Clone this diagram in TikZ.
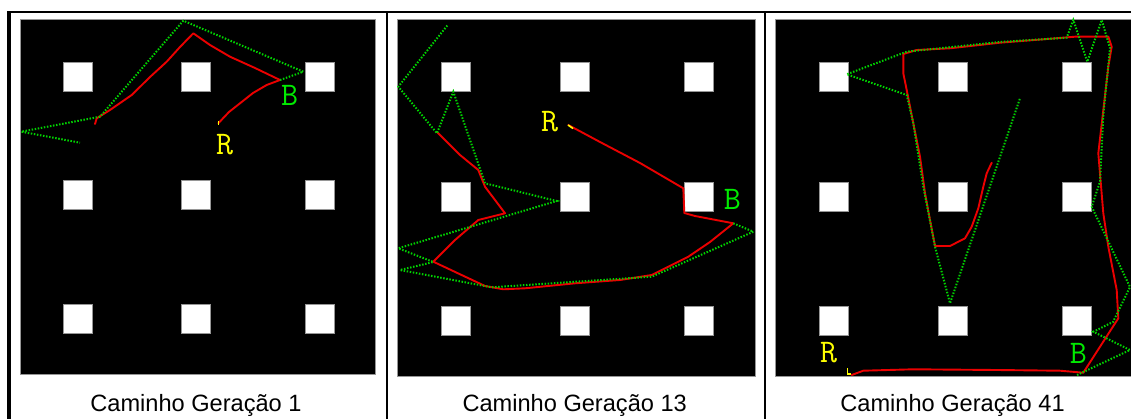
\documentclass[tikz,border=0pt]{standalone}
\usepackage{fontspec}
\setmainfont{Liberation Sans}
\definecolor{pathred}{RGB}{235,0,0}
\definecolor{wpgreen}{RGB}{0,210,0}
\definecolor{lblgreen}{RGB}{0,235,0}
\definecolor{lblyellow}{RGB}{255,255,0}
\definecolor{edgegray}{RGB}{150,150,150}
\begin{document}
\begin{tikzpicture}[x=1pt,y=-1pt,
  arena/.style={fill=black,draw=edgegray,line width=1pt},
  obstacle/.style={rectangle,fill=white,draw=edgegray,line width=0.8pt,minimum size=29pt,inner sep=0pt},
  robotpath/.style={draw=pathred,line width=1.9pt,line join=round,line cap=round},
  genepath/.style={draw=wpgreen,line width=2pt,dash pattern=on 1.5pt off 1.6pt},
  startmark/.style={draw=lblyellow,line width=1.6pt},
  rlabel/.style={text=lblyellow,font=\ttfamily\fontsize{33}{33}\selectfont,inner sep=0pt},
  blabel/.style={text=lblgreen,font=\ttfamily\fontsize{33}{33}\selectfont,inner sep=0pt},
  caption/.style={font=\fontsize{23.6}{28}\selectfont,anchor=base,inner sep=0pt},
  tableline/.style={draw=black,line width=2pt}]
\useasboundingbox (0,0) rectangle (1131,419);
\clip (0,0) rectangle (1131,419);
\fill[white] (0,0) rectangle (1131,419);

% table lines
\draw[tableline] (7,12.5) -- (1131,12.5);
\draw[draw=black,line width=4pt] (9.3,11.5) -- (9.3,419);
\draw[tableline] (386.7,12.5) -- (386.7,419);
\draw[tableline] (764.7,12.5) -- (764.7,419);

% arenas
\draw[arena] (20.7,19.3) rectangle (375.3,374);
\draw[arena] (397.7,19.3) rectangle (755.3,376.7);
\draw[arena] (775.3,19.3) rectangle (1140,376.7);

% obstacles
\foreach \x [count=\i] in {77.8,196,319.7}
  \foreach \y [count=\j] in {76.7,195,318.7}
    \node[obstacle] (a\i\j) at (\x,\y) {};
\foreach \x [count=\i] in {455.5,574.7,699}
  \foreach \y [count=\j] in {77.2,196.7,321}
    \node[obstacle] (b\i\j) at (\x,\y) {};
\foreach \x [count=\i] in {833.7,952.8,1077}
  \foreach \y [count=\j] in {77.2,196.7,321}
    \node[obstacle] (c\i\j) at (\x,\y) {};

% ---------- panel 1 ----------
\draw[robotpath] (218.3,123.3) -- (229,112) -- (240,103.3) -- (253,93) -- (266.7,85) -- (280,80)
  -- (255,68) -- (230,56.7) -- (210,45) -- (193.3,33.3) -- (180,47) -- (166.7,61.7) -- (150,77)
  -- (131.7,95) -- (110,110) -- (96.7,118.3) -- (95,124);
\draw[genepath] (280,80) -- (303.3,71.7) -- (183.3,20.7) -- (100,116.7) -- (21.3,131.7) -- (80,142.7);
\draw[startmark] (218.3,121) -- (218.3,125);
\node[rlabel] (r1) at (224.5,145) {R};
\node[blabel] (b1) at (289.5,95) {B};

% ---------- panel 2 ----------
\draw[robotpath] (568.3,125) -- (600,142) -- (640,163) -- (683.3,188.3) -- (684.3,213) -- (695,216)
  -- (733.3,223.3) -- (710,242) -- (688.3,256.7) -- (651.7,275) -- (620,280) -- (575,283.3)
  -- (525,288.3) -- (503.3,289.3) -- (485,286) -- (433.3,261.7) -- (455,240) -- (478.3,220)
  -- (505,213.3) -- (485,186.7) -- (478.3,170) -- (460,155) -- (436.7,131.7);
\draw[genepath] (733.3,223.3) -- (753.3,231.7) -- (651.7,276.7) -- (491.7,287.3) -- (400,270)
  -- (433.3,262) -- (398.3,248.3) -- (556.7,201) -- (485,183.3) -- (453.3,91.7) -- (437,133.3)
  -- (398.3,86.7) -- (447.7,25);
\draw[startmark] (568,125) -- (573,128.5);
\node[rlabel] (r2) at (549.7,122) {R};
\node[blabel] (b2) at (732.3,199) {B};

% ---------- panel 3 ----------
\draw[robotpath] (851.7,375) -- (863.3,370.7) -- (913.3,369.3) -- (996.7,370) -- (1060,370.7)
  -- (1083.3,372.7) -- (1100,346.7) -- (1118.3,318.3) -- (1116.7,290) -- (1108.3,246.7)
  -- (1103.3,213.3) -- (1098.3,153.3) -- (1103.3,110) -- (1108.3,66.7) -- (1111.7,46.7)
  -- (1108.3,36.7) -- (1075,36.7) -- (1043.3,39.3) -- (1000,42.7) -- (950,48.3) -- (916.7,50)
  -- (903.3,54) -- (903.3,73.3) -- (906.7,90) -- (913.3,123.3) -- (920,156.7) -- (925,193.3)
  -- (930,220) -- (935,246) -- (950,246) -- (965,238.3) -- (971.7,226.7) -- (978.3,208.3)
  -- (983.3,186.7) -- (986.7,173.3) -- (991.7,162.7);
\draw[genepath] (1077,375) -- (1130,350) -- (1093.3,331.7) -- (1113,322) -- (1130,287)
  -- (1091.7,206.7) -- (1100,181.7) -- (1103.3,115) -- (1110,48.3) -- (1101.7,20)
  -- (1087.3,61.7) -- (1073.3,20) -- (1066.7,37.7) -- (1000,42) -- (906.7,51.7)
  -- (846.7,74.3) -- (906.7,95) -- (913.3,123.3) -- (923.3,186.7) -- (935,246.7)
  -- (950,303.3) -- (1020,98.3);
\draw[startmark] (847.5,368) -- (847.5,374) -- (851,374);
\node[rlabel] (r3) at (828.7,353) {R};
\node[blabel] (b3) at (1078.3,353) {B};

% captions
\node[caption] (cap1) at (196,411) {Caminho Geração 1};
\node[caption] (cap2) at (574.7,411) {Caminho Geração 13};
\node[caption] (cap3) at (952.5,411) {Caminho Geração 41};
\end{tikzpicture}
\end{document}
